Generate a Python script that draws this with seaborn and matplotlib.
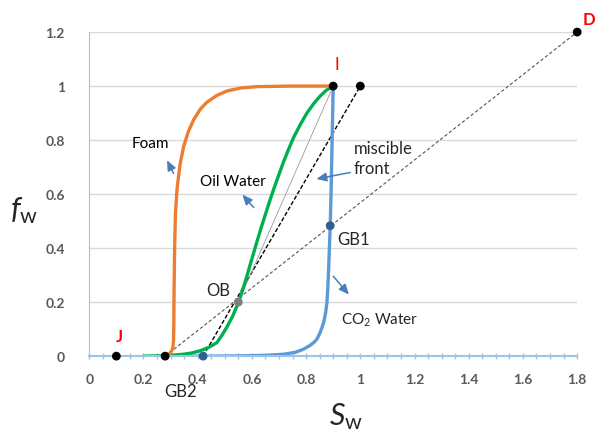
import numpy as np
import matplotlib.pyplot as plt
import seaborn as sns
import pandas as pd

# fractional flow curves
foam_x = [0.28, 0.29, 0.299, 0.305, 0.309, 0.311, 0.312, 0.313, 0.315, 0.318, 0.324, 0.335, 0.348, 0.365, 0.385, 0.41, 0.434, 0.47, 0.508, 0.56, 0.62, 0.75, 0.9]
foam_y = [0, 0.004, 0.012, 0.022, 0.035, 0.06, 0.12, 0.25, 0.4, 0.53, 0.62, 0.71, 0.775, 0.83, 0.875, 0.915, 0.94, 0.965, 0.982, 0.993, 0.998, 1.0, 1.0]

oil_x = [0.2, 0.25, 0.3, 0.348, 0.38, 0.41, 0.44, 0.471, 0.49, 0.508, 0.53, 0.551, 0.567, 0.582, 0.6, 0.619, 0.635, 0.649, 0.665, 0.68, 0.7, 0.717, 0.735, 0.754, 0.78, 0.803, 0.828, 0.852, 0.875, 0.9]
oil_y = [0, 0.001, 0.003, 0.007, 0.012, 0.02, 0.032, 0.05, 0.078, 0.108, 0.15, 0.2, 0.248, 0.298, 0.36, 0.425, 0.478, 0.522, 0.572, 0.617, 0.673, 0.72, 0.765, 0.81, 0.86, 0.9, 0.935, 0.963, 0.985, 1.0]

co2_x = [0.28, 0.45, 0.55, 0.65, 0.717, 0.76, 0.791, 0.815, 0.83, 0.84, 0.853, 0.865, 0.872, 0.877, 0.88, 0.883, 0.886, 0.889, 0.892, 0.895, 0.898, 0.9]
co2_y = [0, 0, 0.001, 0.003, 0.007, 0.014, 0.026, 0.04, 0.052, 0.063, 0.09, 0.125, 0.16, 0.2, 0.25, 0.32, 0.4, 0.483, 0.6, 0.75, 0.9, 1.0]

# construction points
pt_names = ['J', 'A', 'GB2', 'OB', 'GB1', 'I', 'B', 'D']
pt_x = [0.1, 0.28, 0.42, 0.55, 0.889, 0.9, 1.0, 1.8]
pt_y = [0, 0, 0, 0.2, 0.483, 1.0, 1.0, 1.2]
pt_colors = ['black', 'black', '#2f5f8f', '#7f7f7f', '#2f5f8f', 'black', 'black', 'black']

sns.set_style('white')
plt.rcParams['font.family'] = ['Lato', 'DejaVu Sans']
plt.rcParams['mathtext.fontset'] = 'custom'
plt.rcParams['mathtext.it'] = 'Lato:italic'
plt.rcParams['mathtext.rm'] = 'Lato'

fig = plt.figure(figsize=(5.95, 4.35), dpi=100)
ax = fig.add_axes([0.150, 0.179, 0.820, 0.745])

# straight construction lines
ax.plot([pt_x[1], pt_x[7]], [pt_y[1], pt_y[7]], ls='--', lw=0.8, color='#555555', dashes=(3, 2))
ax.plot([pt_x[2], pt_x[6]], [pt_y[2], pt_y[6]], ls='--', lw=1.0, color='black', dashes=(3, 1.5))
ax.plot([pt_x[3], pt_x[5]], [pt_y[3], pt_y[5]], lw=0.6, color='#999999')

sns.lineplot(x=co2_x, y=co2_y, sort=False, color='#5b9bd5', lw=2.4, ax=ax)
sns.lineplot(x=oil_x, y=oil_y, sort=False, color='#00b050', lw=2.4, ax=ax)
sns.lineplot(x=foam_x, y=foam_y, sort=False, color='#ed7d31', lw=2.4, ax=ax)

pts = pd.DataFrame({'x': pt_x, 'y': pt_y, 'name': pt_names})
sns.scatterplot(data=pts, x='x', y='y', hue='name', palette=dict(zip(pt_names, pt_colors)),
                s=40, edgecolor='none', legend=False, ax=ax, zorder=5, clip_on=False)
ax.set_xlabel('')
ax.set_ylabel('')

# labels
txt = dict(fontsize=11, color='black')
ax.text(0.225, 0.79, 'Foam', ha='center', va='center', **txt)
ax.text(0.41, 0.65, 'Oil Water', ha='left', va='center', **txt)
ax.text(0.975, 0.735, 'miscible\nfront', ha='left', va='center', fontsize=12, linespacing=1.3)
ax.text(0.476, 0.245, 'OB', ha='center', va='center', fontsize=12)
ax.text(0.915, 0.435, 'GB1', ha='left', va='center', fontsize=12)
ax.text(0.336, -0.13, 'GB2', ha='center', va='center', fontsize=12, clip_on=False)
ax.text(0.93, 0.135, 'CO$_2$ Water', ha='left', va='center', fontsize=11)
ax.text(0.11, 0.075, 'J', ha='center', va='center', fontsize=12, color='red', fontweight='bold')
ax.text(0.915, 1.08, 'I', ha='center', va='center', fontsize=12, color='red')
ax.text(1.845, 1.25, 'D', ha='center', va='center', fontsize=12, color='red', fontweight='bold', clip_on=False)

# small blue arrows
arrows = [((0.311, 0.677), (0.287, 0.725)),
          ((0.607, 0.55), (0.565, 0.598)),
          ((0.963, 0.68), (0.838, 0.656)),
          ((0.90, 0.296), (0.958, 0.228))]
for start, end in arrows:
    ax.annotate('', xy=end, xytext=start,
                arrowprops=dict(arrowstyle='-|>,head_length=0.5,head_width=0.22',
                                color='#4a7ebb', lw=1.1, mutation_scale=12,
                                shrinkA=0, shrinkB=0))

ax.set_xlim(0, 1.8)
ax.set_ylim(0, 1.2)
ax.set_xticks(np.arange(0, 1.81, 0.2))
ax.set_xticklabels(['0', '0.2', '0.4', '0.6', '0.8', '1', '1.2', '1.4', '1.6', '1.8'])
ax.set_yticks(np.arange(0, 1.21, 0.2))
ax.set_yticklabels(['0', '0.2', '0.4', '0.6', '0.8', '1', '1.2'])
ax.set_xticks(np.arange(0, 1.81, 0.05), minor=True)
ax.grid(axis='y', color='#d9d9d9', lw=1.0)
ax.set_axisbelow(True)

for s in ['top', 'right']:
    ax.spines[s].set_visible(False)
ax.spines['left'].set_color('#9dc3e6')
ax.spines['bottom'].set_color('#9dc3e6')
ax.spines['bottom'].set_linewidth(1.5)
ax.tick_params(axis='x', which='both', direction='inout', color='#9dc3e6', length=5, width=1,
               bottom=True, labelsize=10, labelcolor='#595959', pad=10)
ax.tick_params(axis='y', left=False, labelsize=10, labelcolor='#595959', pad=14)
for lab in ax.get_xticklabels() + ax.get_yticklabels():
    lab.set_fontweight('bold')

# axis titles placed in figure coordinates
fig.text(0.582, 0.042, '$S_\\mathrm{w}$', fontsize=22, ha='center', va='center')
fig.text(0.040, 0.515, '$f_\\mathrm{w}$', fontsize=22, ha='center', va='center')

fig.savefig('out.png', dpi=100)
